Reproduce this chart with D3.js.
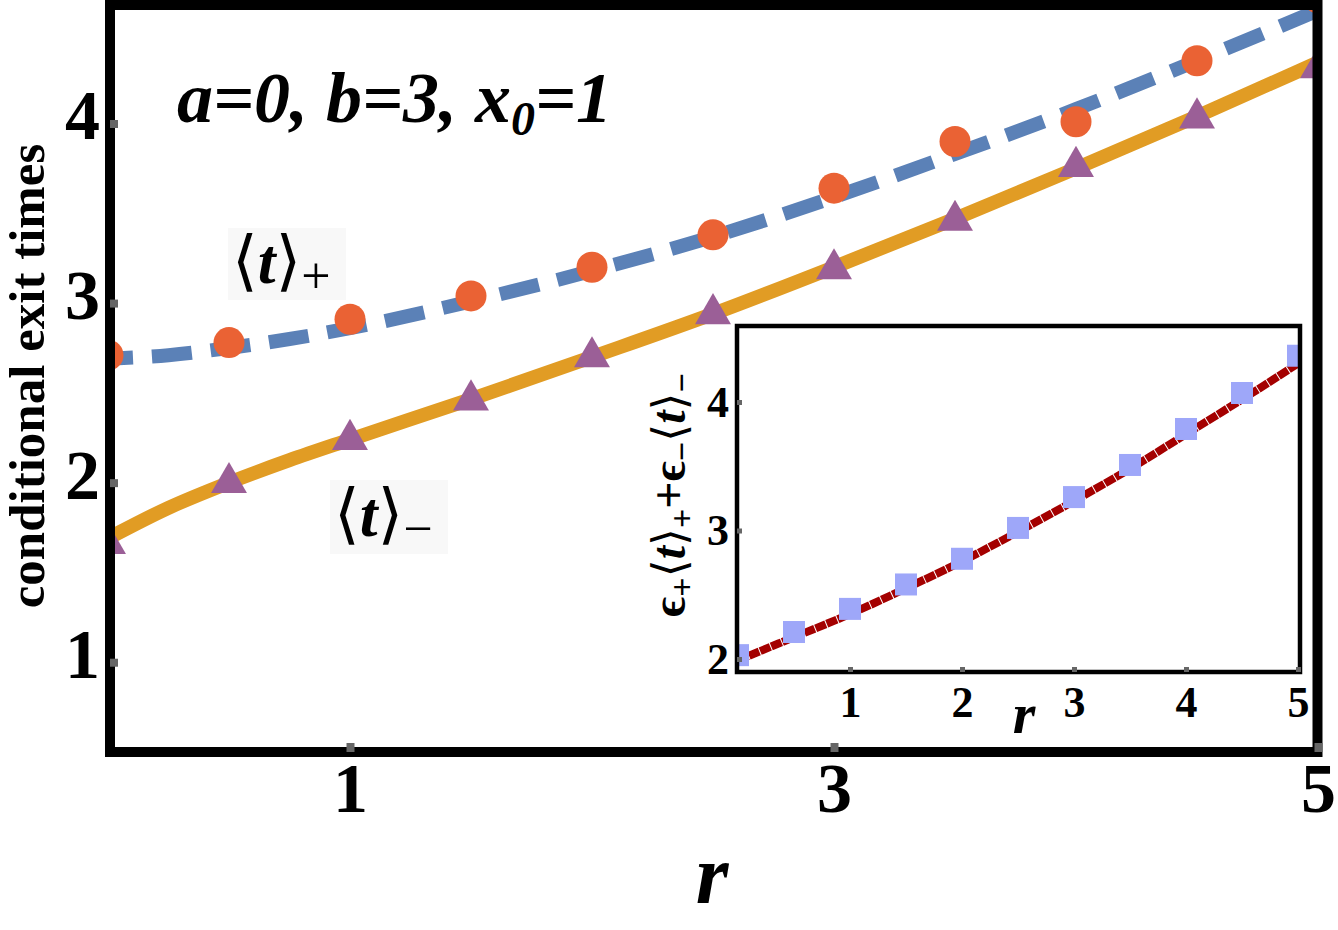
<!DOCTYPE html>
<html>
<head>
<meta charset="utf-8">
<script src="https://cdn.jsdelivr.net/npm/d3@7"></script>
<style>
  body { margin: 0; background: #fff; }
  svg { display: block; }
</style>
</head>
<body>
<svg id="chart" width="1338" height="930"></svg>
<script>
// r grid for the analytic curves and for the simulation points
const lineR = [0, 0.25, 0.5, 0.75, 1, 1.5, 2, 2.5, 3, 3.5, 4, 4.5, 5];
const tPlusCurve = [2.69, 2.71, 2.75, 2.80, 2.86, 3.01, 3.18, 3.37, 3.59, 3.83, 4.08, 4.35, 4.63];
const tMinusCurve = [1.69, 1.86, 2.00, 2.125, 2.24, 2.465, 2.70, 2.94, 3.20, 3.47, 3.75, 4.04, 4.34];

const simR = [0, 0.5, 1, 1.5, 2, 2.5, 3, 3.5, 4, 4.5, 5];
const tPlusSim = [2.71, 2.78, 2.91, 3.04, 3.20, 3.38, 3.64, 3.90, 4.01, 4.35, 4.70];
const tMinusSim = [1.66, 2.00, 2.24, 2.46, 2.70, 2.94, 3.19, 3.46, 3.76, 4.03, 4.31];

// inset: eps+ <t>+ + eps- <t>-
const insetCurve = [1.99, 2.17, 2.35, 2.55, 2.76, 2.99, 3.23, 3.48, 3.75, 4.02, 4.30];
const insetSim = [2.03, 2.21, 2.39, 2.58, 2.78, 3.02, 3.26, 3.51, 3.79, 4.07, 4.36];

const mainXTicks = [1, 3, 5];
const mainYTicks = [1, 2, 3, 4];
const insetXTicks = [1, 2, 3, 4, 5];
const insetYTicks = [2, 3, 4];

const serif = '"Liberation Serif", "Times New Roman", serif';
const brk = '"DejaVu Serif", serif';

const svg = d3.select('#chart');

const m = { left: 110, right: 1317.5, top: 5, bottom: 752 };
const x = d3.scaleLinear().domain([0, 5]).range([108, 1318]);
const y = d3.scaleLinear().domain([0.5, 4.66]).range([m.bottom, m.top]);

svg.append('clipPath').attr('id', 'clipMain')
  .append('rect')
  .attr('x', m.left).attr('y', m.top)
  .attr('width', m.right - m.left).attr('height', m.bottom - m.top);

const plot = svg.append('g').attr('clip-path', 'url(#clipMain)');

// label boxes
plot.append('rect').attr('x', 228).attr('y', 228).attr('width', 118).attr('height', 72).attr('fill', '#f8f8f8');
plot.append('rect').attr('x', 330).attr('y', 480).attr('width', 118).attr('height', 74).attr('fill', '#f8f8f8');

const line = d3.line().curve(d3.curveMonotoneX);

plot.append('path')
  .attr('d', line(lineR.map((r, i) => [x(r), y(tMinusCurve[i])])))
  .attr('fill', 'none')
  .attr('stroke', '#e19c24')
  .attr('stroke-width', 14);

plot.append('path')
  .attr('d', line(lineR.map((r, i) => [x(r), y(tPlusCurve[i])])))
  .attr('fill', 'none')
  .attr('stroke', '#5b81b7')
  .attr('stroke-width', 14)
  .attr('stroke-dasharray', '40,19')
  .attr('stroke-dashoffset', 15);

plot.selectAll('circle.plus')
  .data(simR.map((r, i) => [r, tPlusSim[i]]))
  .enter()
  .append('circle')
  .attr('class', 'plus')
  .attr('cx', d => x(d[0]))
  .attr('cy', d => y(d[1]))
  .attr('r', 15.5)
  .attr('fill', '#ea6234');

const tri = d3.symbol().type(d3.symbolTriangle).size(560);
plot.selectAll('path.minus')
  .data(simR.map((r, i) => [r, tMinusSim[i]]))
  .enter()
  .append('path')
  .attr('class', 'minus')
  .attr('d', tri)
  .attr('transform', d => `translate(${x(d[0])},${y(d[1])})`)
  .attr('fill', '#9b5f97');

// frame
svg.append('rect')
  .attr('x', m.left).attr('y', m.top)
  .attr('width', m.right - m.left).attr('height', m.bottom - m.top)
  .attr('fill', 'none').attr('stroke', '#000').attr('stroke-width', 10);

// axes
const xAxis = svg.append('g')
  .attr('transform', `translate(0,${m.bottom})`)
  .call(d3.axisBottom(x).tickValues(mainXTicks).tickFormat(d3.format('d')).tickSize(-9).tickPadding(10));
const yAxis = svg.append('g')
  .attr('transform', `translate(${m.left},0)`)
  .call(d3.axisLeft(y).tickValues(mainYTicks).tickFormat(d3.format('d')).tickSize(-8).tickPadding(10));

[xAxis, yAxis].forEach(g => {
  g.select('.domain').remove();
  g.selectAll('.tick line').attr('stroke', '#666').attr('stroke-width', 8);
  g.selectAll('.tick text')
    .attr('fill', '#000')
    .style('font-family', serif)
    .style('font-weight', 'bold')
    .style('font-size', '70px');
});
yAxis.selectAll('.tick text').attr('dy', '0.22em');

svg.append('text')
  .attr('x', 712).attr('y', 903)
  .attr('text-anchor', 'middle')
  .style('font-family', serif).style('font-weight', 'bold').style('font-style', 'italic')
  .style('font-size', '84px')
  .text('r');

svg.append('text')
  .attr('transform', 'translate(44,376) rotate(-90)')
  .attr('text-anchor', 'middle')
  .style('font-family', serif).style('font-weight', 'bold')
  .style('font-size', '51px')
  .text('conditional exit times');

// annotations
const title = svg.append('text')
  .attr('x', 177).attr('y', 122)
  .style('font-family', serif).style('font-weight', 'bold').style('font-style', 'italic')
  .style('font-size', '72px');
title.append('tspan').text('a=0, b=3, x');
title.append('tspan').attr('dy', 13).style('font-size', '48px').text('0');
title.append('tspan').attr('dy', -13).text('=1');

function bracketLabel(x0, y0, sub) {
  const t = svg.append('text')
    .attr('x', x0).attr('y', y0)
    .style('font-family', serif)
    .style('font-size', '64px');
  t.append('tspan').style('font-family', brk).style('font-size', '66px').text('\u27E8');
  t.append('tspan').style('font-weight', 'bold').style('font-style', 'italic').text('t');
  t.append('tspan').style('font-family', brk).style('font-size', '66px').text('\u27E9');
  t.append('tspan').attr('dy', 10).style('font-size', '52px').text(sub);
}
bracketLabel(232, 283, '+');
bracketLabel(334, 536, '\u2212');

// inset
const ins = { left: 737, right: 1300, top: 326, bottom: 672 };
const xi = d3.scaleLinear().domain([0, 5]).range([738, 1298]);
const yi = d3.scaleLinear().domain([2, 4]).range([659, 402]);

svg.append('rect')
  .attr('x', ins.left).attr('y', ins.top)
  .attr('width', ins.right - ins.left).attr('height', ins.bottom - ins.top)
  .attr('fill', '#fff');

svg.append('clipPath').attr('id', 'clipInset')
  .append('rect')
  .attr('x', ins.left).attr('y', ins.top)
  .attr('width', ins.right - ins.left).attr('height', ins.bottom - ins.top);

const inset = svg.append('g').attr('clip-path', 'url(#clipInset)');

inset.append('path')
  .attr('d', line(simR.map((r, i) => [xi(r), yi(insetCurve[i])])))
  .attr('fill', 'none')
  .attr('stroke', '#a40000')
  .attr('stroke-width', 8)
  .attr('stroke-dasharray', '11,1');

inset.selectAll('rect.sq')
  .data(simR.map((r, i) => [r, insetSim[i]]))
  .enter()
  .append('rect')
  .attr('class', 'sq')
  .attr('x', d => xi(d[0]) - 11)
  .attr('y', d => yi(d[1]) - 11)
  .attr('width', 22).attr('height', 22)
  .attr('fill', '#9ea7f9');

svg.append('rect')
  .attr('x', ins.left).attr('y', ins.top)
  .attr('width', ins.right - ins.left).attr('height', ins.bottom - ins.top)
  .attr('fill', 'none').attr('stroke', '#000').attr('stroke-width', 4.5);

const xiAxis = svg.append('g')
  .attr('transform', `translate(0,${ins.bottom})`)
  .call(d3.axisBottom(xi).tickValues(insetXTicks).tickFormat(d3.format('d')).tickSize(-5).tickPadding(14));
const yiAxis = svg.append('g')
  .attr('transform', `translate(${ins.left},0)`)
  .call(d3.axisLeft(yi).tickValues(insetYTicks).tickFormat(d3.format('d')).tickSize(-5).tickPadding(8));

[xiAxis, yiAxis].forEach(g => {
  g.select('.domain').remove();
  g.selectAll('.tick line').attr('stroke', '#666').attr('stroke-width', 5);
  g.selectAll('.tick text')
    .attr('fill', '#000')
    .style('font-family', serif)
    .style('font-weight', 'bold')
    .style('font-size', '44px');
});

svg.append('text')
  .attr('x', 1024).attr('y', 733)
  .attr('text-anchor', 'middle')
  .style('font-family', serif).style('font-weight', 'bold').style('font-style', 'italic')
  .style('font-size', '58px')
  .text('r');

const il = svg.append('text')
  .attr('transform', 'translate(685,495) rotate(-90)')
  .attr('text-anchor', 'middle')
  .style('font-family', serif).style('font-weight', 'bold')
  .style('font-size', '48px');
il.append('tspan').text('\u03F5');
il.append('tspan').attr('dy', 8).style('font-size', '34px').text('+');
il.append('tspan').attr('dy', -8).style('font-family', brk).style('font-weight', 'normal').style('font-size', '46px').text('\u27E8');
il.append('tspan').style('font-style', 'italic').text('t');
il.append('tspan').style('font-family', brk).style('font-weight', 'normal').style('font-size', '46px').text('\u27E9');
il.append('tspan').attr('dy', 8).style('font-size', '34px').text('+');
il.append('tspan').attr('dy', -8).text('+\u03F5');
il.append('tspan').attr('dy', 8).style('font-size', '34px').text('\u2212');
il.append('tspan').attr('dy', -8).style('font-family', brk).style('font-weight', 'normal').style('font-size', '46px').text('\u27E8');
il.append('tspan').style('font-style', 'italic').text('t');
il.append('tspan').style('font-family', brk).style('font-weight', 'normal').style('font-size', '46px').text('\u27E9');
il.append('tspan').attr('dy', 8).style('font-size', '34px').text('\u2212');
</script>
</body>
</html>
